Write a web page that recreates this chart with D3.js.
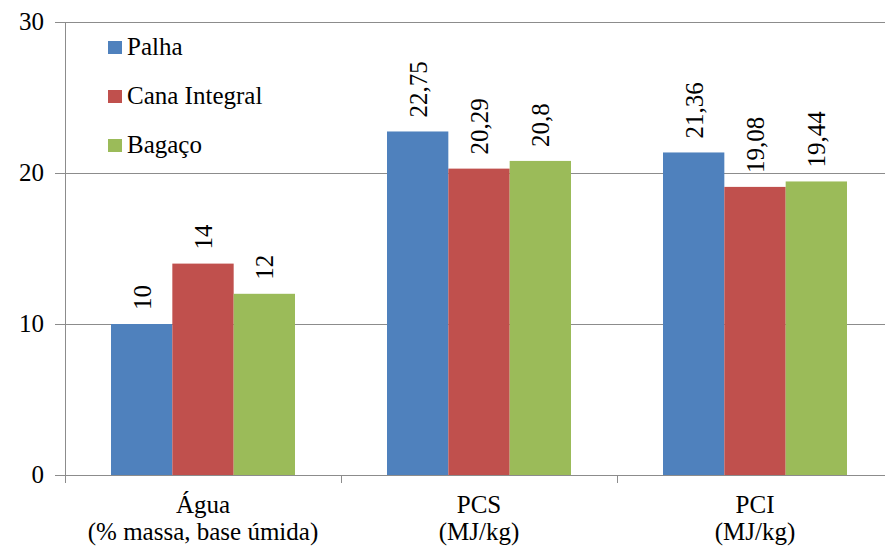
<!DOCTYPE html>
<html><head><meta charset="utf-8">
<script src="https://cdn.jsdelivr.net/npm/d3@7"></script>
<style>
@font-face{font-family:"ChartSerif";src:local("Liberation Serif"),local("LiberationSerif"),local("Liberation Serif Regular"),local("LiberationSerif-Regular");}
body{margin:0;background:#fff}svg{display:block}
</style>
</head><body>
<svg id="c" width="885" height="549"></svg>
<script>
const categories = ["Água", "PCS", "PCI"];
const categorySub = ["(% massa, base úmida)", "(MJ/kg)", "(MJ/kg)"];
const seriesNames = ["Palha", "Cana Integral", "Bagaço"];
const palha = [10, 22.75, 21.36];
const cana = [14, 20.29, 19.08];
const bagaco = [12, 20.8, 19.44];
const valueLabels = [["10","22,75","21,36"],["14","20,29","19,08"],["12","20,8","19,44"]];
const yTicks = [0, 10, 20, 30];
const colors = ["#4F81BD", "#C0504D", "#9BBB59"];
const series = [palha, cana, bagaco];

const FONT = '"Liberation Serif", "ChartSerif", "Times New Roman", serif';
const svg = d3.select("#c");
const fs = 25;
const x0 = d3.scaleBand().domain(categories).range([65, 893]).padding(0);
const y = d3.scaleLinear().domain([0, 30]).range([475, 22]);
const x1 = d3.scaleBand().domain(seriesNames).range([46, x0.bandwidth() - 46]).padding(0);

function txt(sel, anchor) {
  return sel.attr("font-family", "Liberation Serif").style("font-family", FONT)
    .attr("font-size", fs).attr("fill", "#000").attr("text-anchor", anchor);
}

// gridlines
svg.append("g").selectAll("line").data(yTicks.filter(d => d > 0)).join("line")
  .attr("x1", 55).attr("x2", 885).attr("y1", d => Math.round(y(d)) + 0.5).attr("y2", d => Math.round(y(d)) + 0.5)
  .attr("stroke", "#8c8c8c").attr("stroke-width", 1);

// bars
const g = svg.append("g");
series.forEach((s, i) => {
  g.selectAll(null).data(s).join("rect")
    .attr("x", (d, j) => x0(categories[j]) + x1(seriesNames[i]))
    .attr("width", x1.bandwidth())
    .attr("y", d => y(d))
    .attr("height", d => y(0) - y(d))
    .attr("fill", colors[i]);
});
// value labels (rotated, end-anchored at the top so anchor end sits at text top)
const vl = svg.append("g");
series.forEach((s, i) => {
  s.forEach((d, j) => {
    const cx = x0(categories[j]) + x1(seriesNames[i]) + x1.bandwidth() / 2;
    vl.append("text")
      .attr("transform", `translate(${cx + 9},${y(d) - 14}) rotate(-90)`)
      .call(txt, "start")
      .text(valueLabels[i][j]);
  });
});

// axes lines
svg.append("line").attr("x1", 65.5).attr("x2", 65.5).attr("y1", 22).attr("y2", 475).attr("stroke", "#8c8c8c");
svg.append("line").attr("x1", 55).attr("x2", 885).attr("y1", 475.5).attr("y2", 475.5).attr("stroke", "#8c8c8c");
// y tick labels
svg.append("g").selectAll("text").data(yTicks).join("text")
  .attr("x", 44).attr("y", d => y(d) + 8)
  .call(txt, "end").text(d => d);
// x tick marks
const xt = [...categories.map(c => x0(c)), x0.range()[1]];
svg.append("g").selectAll("line").data(xt).join("line")
  .attr("x1", d => Math.round(d) + 0.5).attr("x2", d => Math.round(d) + 0.5)
  .attr("y1", 475).attr("y2", 483).attr("stroke", "#8c8c8c");
// category labels
const cl = svg.append("g");
categories.forEach((c, j) => {
  const cx = x0(c) + x0.bandwidth() / 2;
  cl.append("text").attr("x", cx).attr("y", 513).call(txt, "middle").text(c);
  cl.append("text").attr("x", cx).attr("y", 540).call(txt, "middle").text(categorySub[j]);
});
// legend
const lg = svg.append("g");
seriesNames.forEach((n, i) => {
  const ly = 41 + i * 49;
  lg.append("rect").attr("x", 108).attr("y", ly).attr("width", 14).attr("height", 13).attr("fill", colors[i]);
  lg.append("text").attr("x", 127).attr("y", ly + 14).call(txt, "start").text(n);
});
</script>
</body></html>
